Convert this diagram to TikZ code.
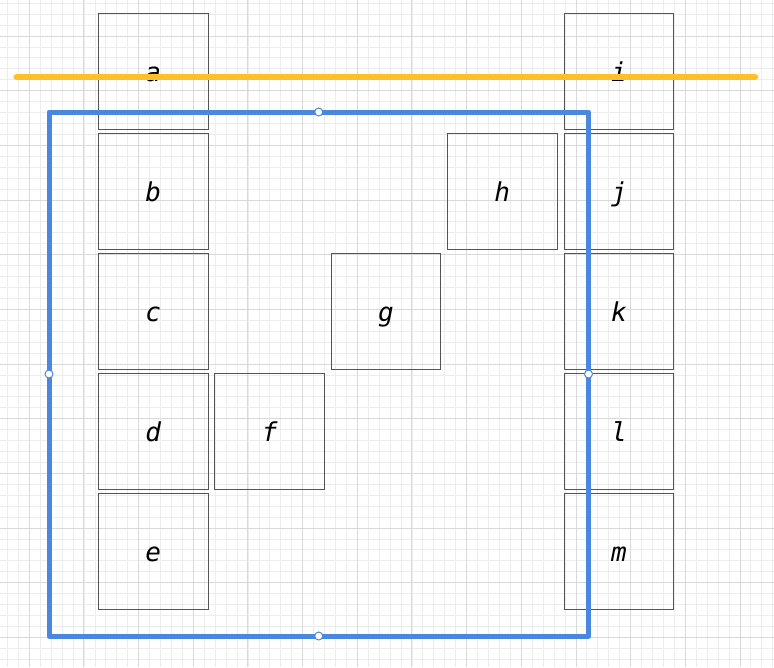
\documentclass[tikz,border=0pt]{standalone}
\usepackage{fontspec}
\usepackage{tikz}
\newfontfamily\labelfont{DejaVu Sans Mono Oblique}
\definecolor{mgrid}{rgb}{0.93, 0.93, 0.93}
\definecolor{mmajor}{rgb}{0.85, 0.85, 0.85}
\definecolor{mgray}{rgb}{0.33, 0.33, 0.33}
\definecolor{mblue}{rgb}{0.29, 0.53, 0.87}
\definecolor{morange}{rgb}{1, 0.75, 0.16}
\tikzset{minorline/.style = {draw=mgrid, line width=0.8}}
\tikzset{majorline/.style = {draw=mmajor, line width=1}}
\tikzset{tile/.style = {draw=mgray, line width=1, inner sep=0,
                        minimum width=109.5, minimum height=115.7,
                        text height=21, text depth=0,
                        font=\labelfont\fontsize{26}{30}\selectfont}}
\tikzset{selbox/.style = {draw=mblue, line width=5, line join=round}}
\tikzset{cutline/.style = {draw=morange, line width=6.5, line cap=round}}
\tikzset{circ/.style = {circle, draw=mblue, fill=white, line width=1, inner sep=0, minimum size=8}}

\begin{document}
\begin{tikzpicture}[x=1pt, y=-1pt]
    \useasboundingbox (0, 0) rectangle (774, 667);
    \fill [white] (0, 0) rectangle (774, 667);

    % grid
    \foreach \i in {0,...,70} \draw [minorline] ({7.44 + 10.933*\i}, 0) -- +(0, 667);
    \foreach \i in {0,...,60} \draw [minorline] (0, {3.2 + 10.933*\i}) -- +(774, 0);
    \foreach \i in {0,...,13} \draw [majorline] ({29.3 + 54.67*\i}, 0) -- +(0, 667);
    \foreach \i in {0,...,11} \draw [majorline] (0, {36 + 54.67*\i}) -- +(774, 0);

    % left column
    \node [tile] (a) at (153.3, 71.2) {a};
    \node [tile] (b) at (153.3, 191.2) {b};
    \node [tile] (c) at (153.3, 311.2) {c};
    \node [tile] (d) at (153.3, 431.2) {d};
    \node [tile] (e) at (153.3, 551.2) {e};

    % diagonal
    \node [tile] (f) at (269.7, 431.2) {f};
    \node [tile] (g) at (386, 311.2) {g};
    \node [tile] (h) at (502.3, 191.2) {h};

    % right column
    \node [tile] (i) at (619, 71.2) {i};
    \node [tile] (j) at (619, 191.2) {j};
    \node [tile] (k) at (619, 311.2) {k};
    \node [tile] (l) at (619, 431.2) {l};
    \node [tile] (m) at (619, 551.2) {m};

    % selection
    \coordinate (sw) at (49, 636);
    \coordinate (ne) at (588.5, 112);
    \draw [selbox] (sw) rectangle (ne);
    \node [circ] at (sw |- ne) [xshift=269.75] {};
    \node [circ] at (sw |- ne) [yshift=-262] {};
    \node [circ] at (ne) [yshift=-262] {};
    \node [circ] at (sw) [xshift=269.75] {};

    \coordinate (cutl) at (16.7, 77);
    \coordinate (cutr) at (755, 77);
    \draw [cutline] (cutl) -- (cutr);
\end{tikzpicture}
\end{document}
